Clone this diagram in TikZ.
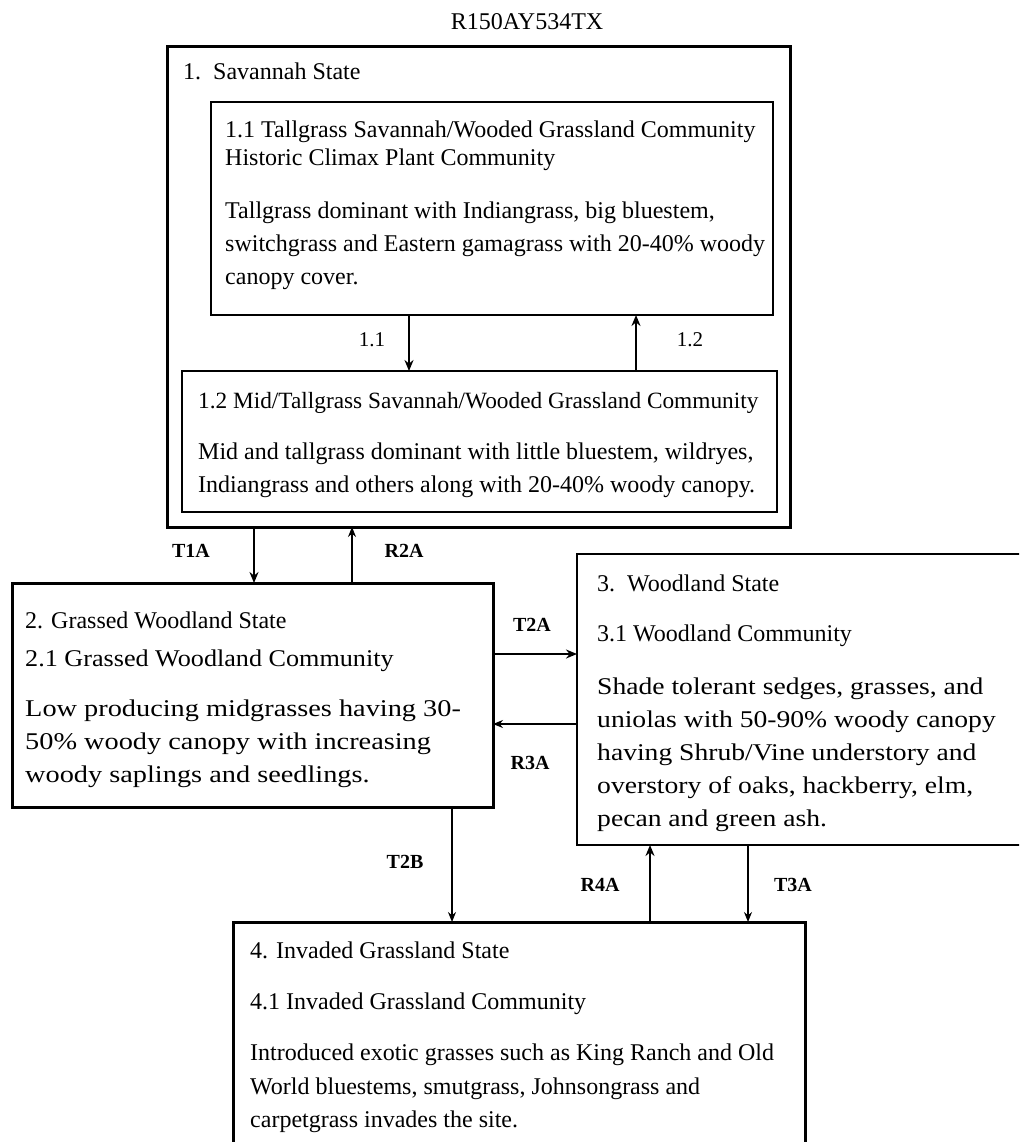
\documentclass[tikz,border=0pt]{standalone}
\usepackage{fontspec}
\setmainfont{Liberation Serif}
\newfontfamily\widefont[FakeStretch=1.18]{Liberation Serif}
\newfontfamily\woodfont[FakeStretch=1.15]{Liberation Serif}
\newfontfamily\midfont[FakeStretch=1.09]{Liberation Serif}
\usetikzlibrary{arrows.meta}
\begin{document}
\begin{tikzpicture}[x=1pt,y=-1pt,
  statebox/.style={draw, line width=3pt, anchor=north west, inner sep=0pt, outer sep=0pt},
  combox/.style={draw, line width=1.6pt, anchor=north west, inner sep=0pt, outer sep=0pt},
  txt/.style={anchor=base west, inner sep=0pt, font=\fontsize{24}{33}\selectfont},
  widetxt/.style={txt, font=\fontsize{24}{33}\widefont},
  woodtxt/.style={txt, font=\fontsize{24}{33}\woodfont},
  lbl/.style={inner sep=0pt, font=\fontsize{20}{22}\selectfont\bfseries},
  numlbl/.style={inner sep=0pt, font=\fontsize{21}{24}\selectfont},
  thickarr/.style={line width=2.2pt, -{Stealth[length=11pt,width=9pt]}},
  thinarr/.style={line width=1.3pt, -{Stealth[length=10pt,width=8pt]}}
]
\useasboundingbox (0,0) rectangle (1019,1142);
\fill[white] (0,0) rectangle (1019,1142);
\clip (0,0) rectangle (1019,1142);

% title
\node[inner sep=0pt, font=\fontsize{24}{28}\selectfont] (title) at (527,22) {R150AY534TX};

% state 1
\node[statebox, minimum width=623pt, minimum height=480pt] (s1) at (167,47) {};
\node[txt] (s1t) at (183,80) {1.\ \ Savannah State};

\node[combox, minimum width=562pt, minimum height=213pt] (b11) at (211,102) {};
\node[txt] (b11a) at (225,138) {1.1 Tallgrass Savannah/Wooded Grassland Community};
\node[txt] (b11b) at (225,166) {Historic Climax Plant Community};
\node[txt] (b11c) at (225,218) {Tallgrass dominant with Indiangrass, big bluestem,};
\node[txt] (b11d) at (225,251) {switchgrass and Eastern gamagrass with 20-40\% woody};
\node[txt] (b11e) at (225,284) {canopy cover.};

\node[combox, minimum width=595pt, minimum height=141pt] (b12) at (182,371) {};
\node[txt, font=\fontsize{23.3}{33}\selectfont] (b12a) at (198,408) {1.2 Mid/Tallgrass Savannah/Wooded Grassland Community};
\node[txt] (b12b) at (198,459) {Mid and tallgrass dominant with little bluestem, wildryes,};
\node[txt] (b12c) at (198,492) {Indiangrass and others along with 20-40\% woody canopy.};

\draw[thickarr] ([xshift=198pt]b11.south west) -- ([xshift=227pt]b12.north west);
\draw[thickarr] ([xshift=454pt]b12.north west) -- ([xshift=425pt]b11.south west);
\node[numlbl] (l11) at (372,340) {1.1};
\node[numlbl] (l12) at (690,340) {1.2};

% state 2
\node[statebox, minimum width=481pt, minimum height=224pt] (s2) at (12,583) {};
\node[txt] (s2a) at (25,628) {2. Grassed Woodland State};
\node[txt, font=\fontsize{24}{33}\midfont] (s2b) at (25,666) {2.1 Grassed Woodland Community};
\node[widetxt] (s2c) at (25,716) {Low producing midgrasses having 30-};
\node[widetxt] (s2d) at (25,749) {50\% woody canopy with increasing};
\node[widetxt] (s2e) at (25,782) {woody saplings and seedlings.};

% state 3
\node[statebox, line width=2.5pt, minimum width=460pt, minimum height=291pt] (s3) at (577,554) {};
\node[txt] (s3a) at (597,591) {3.\ \ Woodland State};
\node[txt] (s3b) at (597,641) {3.1 Woodland Community};
\node[woodtxt] (s3c) at (597,694) {Shade tolerant sedges, grasses, and};
\node[woodtxt] (s3d) at (597,727) {uniolas with 50-90\% woody canopy};
\node[woodtxt] (s3e) at (597,760) {having Shrub/Vine understory and};
\node[woodtxt] (s3f) at (597,793) {overstory of oaks, hackberry, elm,};
\node[woodtxt] (s3g) at (597,826) {pecan and green ash.};

% state 4
\node[statebox, minimum width=572pt, minimum height=240pt] (s4) at (233,922) {};
\node[txt] (s4a) at (250,958) {4. Invaded Grassland State};
\node[txt] (s4b) at (250,1009) {4.1 Invaded Grassland Community};
\node[txt] (s4c) at (250,1060) {Introduced exotic grasses such as King Ranch and Old};
\node[txt] (s4d) at (250,1094) {World bluestems, smutgrass, Johnsongrass and};
\node[txt] (s4e) at (250,1127) {carpetgrass invades the site.};

% transitions
\draw[thickarr] ([xshift=87pt]s1.south west) -- ([xshift=242pt]s2.north west);
\draw[thinarr] ([xshift=340pt]s2.north west) -- ([xshift=185pt]s1.south west);
\node[lbl] (t1a) at (191,551) {T1A};
\node[lbl] (r2a) at (404,551) {R2A};

\draw[thickarr] ([yshift=-71pt]s2.north east) -- ([yshift=-100pt]s3.north west);
\draw[thinarr] ([yshift=-170pt]s3.north west) -- ([yshift=-141pt]s2.north east);
\node[lbl] (t2a) at (532,625) {T2A};
\node[lbl] (r3a) at (530,763) {R3A};

\draw[thinarr] ([xshift=440pt]s2.south west) -- ([xshift=219pt]s4.north west);
\node[lbl] (t2b) at (405,862) {T2B};

\draw[thickarr] ([xshift=417pt]s4.north west) -- ([xshift=73pt]s3.south west);
\draw[thinarr] ([xshift=171pt]s3.south west) -- ([xshift=515pt]s4.north west);
\node[lbl] (r4a) at (600,885) {R4A};
\node[lbl] (t3a) at (793,885) {T3A};
\end{tikzpicture}
\end{document}
